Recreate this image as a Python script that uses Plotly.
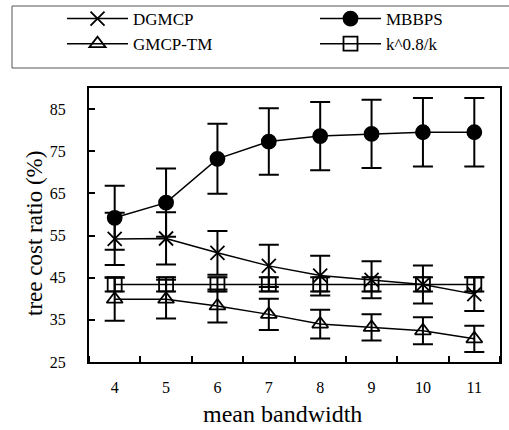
import plotly.graph_objects as go

x_vals = [4, 5, 6, 7, 8, 9, 10, 11]

dgmcp = [54.2, 54.3, 50.9, 47.8, 45.5, 44.5, 43.4, 41.1]
dgmcp_err = [6.2, 6.2, 5.2, 5.0, 4.7, 4.4, 4.5, 4.0]

mbbps = [59.2, 62.8, 73.2, 77.3, 78.6, 79.1, 79.5, 79.5]
mbbps_err = [7.6, 8.1, 8.3, 7.9, 8.1, 8.1, 8.1, 8.1]

gmcp_tm = [39.9, 39.9, 38.3, 36.3, 34.0, 33.2, 32.4, 30.5]
gmcp_tm_err = [5.1, 4.6, 3.9, 3.7, 3.4, 3.1, 3.2, 3.1]

kratio = [43.4, 43.4, 43.4, 43.4, 43.4, 43.4, 43.4, 43.4]
kratio_err = [1.7, 1.7, 1.7, 1.7, 1.7, 1.7, 1.7, 1.7]

y_ticks = [25, 35, 45, 55, 65, 75, 85]

FONT = "Liberation Serif"
W, H = 509, 430
ML, MR, MT, MB = 89, 9, 88, 68
PW, PH = W - ML - MR, H - MT - MB


def px_x(px):
    return (px - ML) / PW


def px_y(py):
    return (H - MB - py) / PH


def trace(name, y, err, symbol, legend):
    return go.Scatter(
        x=x_vals, y=y, name=name, mode="lines+markers", legend=legend,
        line=dict(color="black", width=1.5),
        marker=dict(symbol=symbol, size=14,
                    color="black",
                    line=dict(color="black", width=1.8)),
        error_y=dict(type="data", array=err, visible=True,
                     color="black", thickness=2, width=10),
    )


fig = go.Figure()
fig.add_trace(trace("DGMCP", dgmcp, dgmcp_err, "x-thin-open", "legend"))
fig.add_trace(trace("GMCP-TM", gmcp_tm, gmcp_tm_err, "triangle-up-open", "legend"))
fig.add_trace(trace("MBBPS", mbbps, mbbps_err, "circle", "legend2"))
fig.add_trace(trace("k^0.8/k", kratio, kratio_err, "square-open", "legend2"))

fig.add_shape(type="rect", xref="paper", yref="paper",
              x0=px_x(12), x1=px_x(515), y0=px_y(68), y1=px_y(6),
              line=dict(color="#555555", width=1), fillcolor="rgba(0,0,0,0)")

fig.add_annotation(text="tree cost ratio (%)", xref="paper", yref="paper",
                   x=px_x(34), y=px_y(234), textangle=-90, showarrow=False,
                   xanchor="center", yanchor="middle",
                   font=dict(family=FONT, size=23, color="black"))
fig.add_annotation(text="mean bandwidth", xref="paper", yref="paper",
                   x=px_x(282), y=px_y(414), showarrow=False,
                   xanchor="center", yanchor="middle",
                   font=dict(family=FONT, size=24, color="black"))

legend_common = dict(
    orientation="v", xanchor="left", yanchor="top",
    itemwidth=61, tracegroupgap=0,
    font=dict(family=FONT, size=17, color="black"),
    bgcolor="rgba(0,0,0,0)", borderwidth=0,
)

fig.update_layout(
    width=W, height=H,
    margin=dict(l=ML, r=MR, t=MT, b=MB, autoexpand=False),
    paper_bgcolor="white", plot_bgcolor="white",
    font=dict(family=FONT, color="black", size=16),
    showlegend=True,
    legend=dict(x=px_x(62), y=px_y(1), **legend_common),
    legend2=dict(x=px_x(315), y=px_y(1), **legend_common),
    xaxis=dict(
        range=[3.5, 11.5], tickvals=x_vals, ticktext=[str(v) for v in x_vals],
        ticks="", showgrid=False, zeroline=False, automargin=False,
        showline=True, linecolor="black", linewidth=2, mirror=True,
        ticklabelstandoff=10,
        tickfont=dict(family=FONT, size=16),
        minor=dict(tick0=4.5, dtick=1, ticks="inside", ticklen=6,
                   tickcolor="black", tickwidth=1.5, showgrid=False),
    ),
    yaxis=dict(
        range=[25, 90], tickvals=y_ticks, ticks="inside", ticklen=6,
        tickcolor="black", tickwidth=1.5, automargin=False,
        showgrid=False, zeroline=False,
        showline=True, linecolor="black", linewidth=2, mirror=True,
        ticklabelstandoff=18,
        tickfont=dict(family=FONT, size=16),
    ),
)

fig.write_html("out.html",
               config={"displayModeBar": False},
               post_script="document.body.style.margin='0px';document.body.style.overflow='hidden';")
